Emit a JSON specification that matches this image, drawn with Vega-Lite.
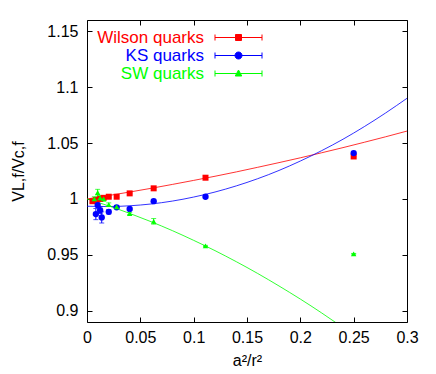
{
  "$schema": "https://vega.github.io/schema/vega-lite/v6.json",
  "width": 320,
  "height": 302,
  "autosize": "none",
  "padding": {"left": 87, "top": 20, "right": 29, "bottom": 52},
  "background": "white",
  "config": {
    "view": {"stroke": "black", "strokeWidth": 1},
    "font": "Liberation Sans",
    "axis": {"grid": false, "domain": false, "tickColor": "black", "tickSize": -5, "labelColor": "black", "labelFont": "Liberation Sans", "labelFontSize": 16, "titleFont": "Liberation Sans", "titleFontSize": 16, "titleFontWeight": "normal", "titleColor": "black"}
  },
  "datasets": {
    "curves": [
      {"series": "Wilson quarks", "x": 0.0, "y": 1.0},
      {"series": "Wilson quarks", "x": 0.02, "y": 1.003},
      {"series": "Wilson quarks", "x": 0.04, "y": 1.0062},
      {"series": "Wilson quarks", "x": 0.06, "y": 1.0095},
      {"series": "Wilson quarks", "x": 0.08, "y": 1.013},
      {"series": "Wilson quarks", "x": 0.1, "y": 1.0166},
      {"series": "Wilson quarks", "x": 0.12, "y": 1.0203},
      {"series": "Wilson quarks", "x": 0.14, "y": 1.0242},
      {"series": "Wilson quarks", "x": 0.16, "y": 1.0283},
      {"series": "Wilson quarks", "x": 0.18, "y": 1.0325},
      {"series": "Wilson quarks", "x": 0.2, "y": 1.0368},
      {"series": "Wilson quarks", "x": 0.22, "y": 1.0413},
      {"series": "Wilson quarks", "x": 0.24, "y": 1.0459},
      {"series": "Wilson quarks", "x": 0.26, "y": 1.0507},
      {"series": "Wilson quarks", "x": 0.28, "y": 1.0556},
      {"series": "Wilson quarks", "x": 0.3, "y": 1.0607},
      {"series": "KS quarks", "x": 0.0, "y": 0.9935},
      {"series": "KS quarks", "x": 0.02, "y": 0.9932},
      {"series": "KS quarks", "x": 0.04, "y": 0.9939},
      {"series": "KS quarks", "x": 0.06, "y": 0.9955},
      {"series": "KS quarks", "x": 0.08, "y": 0.9981},
      {"series": "KS quarks", "x": 0.1, "y": 1.0017},
      {"series": "KS quarks", "x": 0.12, "y": 1.0062},
      {"series": "KS quarks", "x": 0.14, "y": 1.0117},
      {"series": "KS quarks", "x": 0.16, "y": 1.0181},
      {"series": "KS quarks", "x": 0.18, "y": 1.0255},
      {"series": "KS quarks", "x": 0.2, "y": 1.0339},
      {"series": "KS quarks", "x": 0.22, "y": 1.0432},
      {"series": "KS quarks", "x": 0.24, "y": 1.0534},
      {"series": "KS quarks", "x": 0.26, "y": 1.0647},
      {"series": "KS quarks", "x": 0.28, "y": 1.0769},
      {"series": "KS quarks", "x": 0.3, "y": 1.09},
      {"series": "SW quarks", "x": 0.0, "y": 1.0},
      {"series": "SW quarks", "x": 0.02, "y": 0.9939},
      {"series": "SW quarks", "x": 0.04, "y": 0.9871},
      {"series": "SW quarks", "x": 0.06, "y": 0.9797},
      {"series": "SW quarks", "x": 0.08, "y": 0.9717},
      {"series": "SW quarks", "x": 0.1, "y": 0.963},
      {"series": "SW quarks", "x": 0.12, "y": 0.9538},
      {"series": "SW quarks", "x": 0.14, "y": 0.9439},
      {"series": "SW quarks", "x": 0.16, "y": 0.9334},
      {"series": "SW quarks", "x": 0.18, "y": 0.9222},
      {"series": "SW quarks", "x": 0.2, "y": 0.9105},
      {"series": "SW quarks", "x": 0.22, "y": 0.8981},
      {"series": "SW quarks", "x": 0.24, "y": 0.8851}
    ],
    "points": [
      {"series": "Wilson quarks", "x": 0.0051, "y": 0.998, "lo": 0.9965, "hi": 0.9995},
      {"series": "Wilson quarks", "x": 0.0083, "y": 0.999, "lo": 0.9975, "hi": 1.0005},
      {"series": "Wilson quarks", "x": 0.0123, "y": 1.0, "lo": 0.999, "hi": 1.001},
      {"series": "Wilson quarks", "x": 0.0156, "y": 1.001, "lo": 1.0, "hi": 1.002},
      {"series": "Wilson quarks", "x": 0.0204, "y": 1.002, "lo": 1.0012, "hi": 1.0028},
      {"series": "Wilson quarks", "x": 0.0278, "y": 1.002, "lo": 1.0014, "hi": 1.0026},
      {"series": "Wilson quarks", "x": 0.04, "y": 1.005, "lo": 1.0045, "hi": 1.0055},
      {"series": "Wilson quarks", "x": 0.0625, "y": 1.0095, "lo": 1.009, "hi": 1.01},
      {"series": "Wilson quarks", "x": 0.1111, "y": 1.019, "lo": 1.0186, "hi": 1.0194},
      {"series": "Wilson quarks", "x": 0.25, "y": 1.038, "lo": 1.0377, "hi": 1.0383},
      {"series": "KS quarks", "x": 0.0083, "y": 0.9865, "lo": 0.9815, "hi": 0.9915},
      {"series": "KS quarks", "x": 0.01, "y": 0.9945, "lo": 0.9925, "hi": 0.9965},
      {"series": "KS quarks", "x": 0.0123, "y": 0.99, "lo": 0.987, "hi": 0.993},
      {"series": "KS quarks", "x": 0.0138, "y": 0.9835, "lo": 0.9785, "hi": 0.9885},
      {"series": "KS quarks", "x": 0.0204, "y": 0.9885, "lo": 0.9865, "hi": 0.9905},
      {"series": "KS quarks", "x": 0.0278, "y": 0.9925, "lo": 0.9915, "hi": 0.9935},
      {"series": "KS quarks", "x": 0.04, "y": 0.991, "lo": 0.9902, "hi": 0.9918},
      {"series": "KS quarks", "x": 0.0625, "y": 0.998, "lo": 0.9974, "hi": 0.9986},
      {"series": "KS quarks", "x": 0.1111, "y": 1.002, "lo": 1.0016, "hi": 1.0024},
      {"series": "KS quarks", "x": 0.25, "y": 1.041, "lo": 1.0407, "hi": 1.0413},
      {"series": "SW quarks", "x": 0.0069, "y": 1.0, "lo": 0.998, "hi": 1.002},
      {"series": "SW quarks", "x": 0.01, "y": 1.0056, "lo": 1.0026, "hi": 1.0086},
      {"series": "SW quarks", "x": 0.0123, "y": 1.001, "lo": 0.999, "hi": 1.003},
      {"series": "SW quarks", "x": 0.0156, "y": 1.0, "lo": 0.998, "hi": 1.002},
      {"series": "SW quarks", "x": 0.0204, "y": 0.995, "lo": 0.9935, "hi": 0.9965},
      {"series": "SW quarks", "x": 0.0278, "y": 0.993, "lo": 0.992, "hi": 0.994},
      {"series": "SW quarks", "x": 0.04, "y": 0.987, "lo": 0.986, "hi": 0.988},
      {"series": "SW quarks", "x": 0.0625, "y": 0.98, "lo": 0.9775, "hi": 0.9825},
      {"series": "SW quarks", "x": 0.1111, "y": 0.958, "lo": 0.9575, "hi": 0.9585},
      {"series": "SW quarks", "x": 0.25, "y": 0.951, "lo": 0.9507, "hi": 0.9513}
    ]
  },
  "layer": [
    {
      "data": {"name": "curves"},
      "mark": {"type": "line", "strokeWidth": 1, "clip": true, "interpolate": "monotone", "opacity": 0.8},
      "encoding": {
        "x": {"field": "x", "type": "quantitative", "scale": {"domain": [0, 0.3], "nice": false, "zero": false},
              "axis": {"orient": "bottom", "values": [0, 0.05, 0.1, 0.15, 0.2, 0.25, 0.3], "format": "~g", "labelPadding": 12, "title": "a²/r²", "titlePadding": 7, "labelFlush": false}},
        "y": {"field": "y", "type": "quantitative", "scale": {"domain": [0.89, 1.16], "nice": false, "zero": false},
              "axis": {"orient": "left", "values": [0.9, 0.95, 1, 1.05, 1.1, 1.15], "format": "~g", "labelPadding": 14, "title": "VL,f/Vc,f", "titlePadding": 20}},
        "color": {"field": "series", "type": "nominal",
                  "scale": {"domain": ["Wilson quarks", "KS quarks", "SW quarks"], "range": ["#ff0000", "#0000ff", "#00ff00"]},
                  "legend": {
                    "orient": "none", "legendX": 143, "legendY": 9, "title": null,
                    "symbolSize": 100, "labelFontSize": 17, "labelFont": "Liberation Sans", "labelLimit": 0,
                    "rowPadding": 0,
                    "labelAlign": "right",
                    "labelOffset": -43,
                    "labelColor": {"expr": "scale('color', datum.value)"},
                    "symbolFillColor": {"expr": "scale('color', datum.value)"},
                    "symbolStrokeWidth": 1,
                    "symbolOpacity": 1,
                    "symbolType": {"expr": "datum.value === 'Wilson quarks' ? 'M-4.7,0H4.7M-4.7,-0.6V0.6M4.7,-0.6V0.6M-0.6,-0.6H0.6V0.6H-0.6Z' : datum.value === 'KS quarks' ? 'M-4.7,0H4.7M-4.7,-0.6V0.6M4.7,-0.6V0.6M-0.7,0A0.7,0.7,0,1,0,0.7,0A0.7,0.7,0,1,0,-0.7,0Z' : 'M-4.7,0H4.7M-4.7,-0.6V0.6M4.7,-0.6V0.6M0,-0.7L0.65,0.5H-0.65Z'"}
                  }}
      }
    },
    {
      "data": {"name": "points"},
      "mark": {"type": "rule", "strokeWidth": 1},
      "encoding": {
        "x": {"field": "x", "type": "quantitative", "axis": {"orient": "top", "values": [0, 0.05, 0.1, 0.15, 0.2, 0.25, 0.3], "labels": false, "title": null}},
        "y": {"field": "lo", "type": "quantitative", "axis": {"orient": "right", "values": [0.9, 0.95, 1, 1.05, 1.1, 1.15], "labels": false, "title": null}},
        "y2": {"field": "hi"},
        "color": {"field": "series", "type": "nominal", "legend": null}
      }
    },
    {
      "data": {"name": "points"},
      "mark": {"type": "tick", "orient": "horizontal", "size": 5, "thickness": 1},
      "encoding": {
        "x": {"field": "x", "type": "quantitative", "axis": null},
        "y": {"field": "lo", "type": "quantitative", "axis": null},
        "color": {"field": "series", "type": "nominal", "legend": null}
      }
    },
    {
      "data": {"name": "points"},
      "mark": {"type": "tick", "orient": "horizontal", "size": 5, "thickness": 1},
      "encoding": {
        "x": {"field": "x", "type": "quantitative", "axis": null},
        "y": {"field": "hi", "type": "quantitative", "axis": null},
        "color": {"field": "series", "type": "nominal", "legend": null}
      }
    },
    {
      "data": {"name": "points"},
      "transform": [{"filter": "datum.series === 'Wilson quarks'"}],
      "mark": {"type": "point", "shape": "square", "filled": true, "size": 36, "opacity": 1},
      "encoding": {
        "x": {"field": "x", "type": "quantitative", "axis": null},
        "y": {"field": "y", "type": "quantitative", "axis": null},
        "color": {"field": "series", "type": "nominal", "legend": null}
      }
    },
    {
      "data": {"name": "points"},
      "transform": [{"filter": "datum.series === 'KS quarks'"}],
      "mark": {"type": "point", "shape": "circle", "filled": true, "size": 40, "opacity": 1},
      "encoding": {
        "x": {"field": "x", "type": "quantitative", "axis": null},
        "y": {"field": "y", "type": "quantitative", "axis": null},
        "color": {"field": "series", "type": "nominal", "legend": null}
      }
    },
    {
      "data": {"name": "points"},
      "transform": [{"filter": "datum.series === 'SW quarks'"}],
      "mark": {"type": "point", "shape": "triangle-up", "filled": true, "size": 30, "opacity": 1},
      "encoding": {
        "x": {"field": "x", "type": "quantitative", "axis": null},
        "y": {"field": "y", "type": "quantitative", "axis": null},
        "color": {"field": "series", "type": "nominal", "legend": null}
      }
    }
  ],
  "resolve": {"axis": {"x": "independent", "y": "independent"}}
}
